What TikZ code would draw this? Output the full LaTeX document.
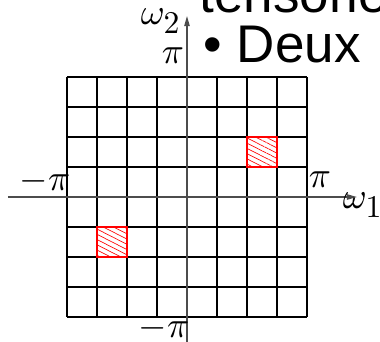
\documentclass[tikz,border=0pt]{standalone}
\usepackage{fontspec}
\newfontfamily\slidefont{Liberation Sans}
\usetikzlibrary{arrows.meta,patterns.meta}
\newcommand{\idx}[1]{\hbox{\fontsize{9.5}{11}\selectfont #1}}

\begin{document}
\begin{tikzpicture}[x=0.3pt, y=-0.3pt,
  cell/.style={draw=black, line width=0.35pt},
  axis/.style={draw=black!70, line width=0.35pt, -{Triangle[length=3pt, width=1.6pt]}},
  band/.style={draw=red, line width=0.35pt, pattern={Lines[angle=-27, distance=1.4pt, line width=0.2pt]}, pattern color=red},
  lab/.style={inner sep=0pt, font=\fontsize{11}{13}\selectfont},
  slide/.style={inner sep=0pt, anchor=base west, font=\slidefont\fontsize{15.9}{19}\selectfont}
]
\useasboundingbox (0,0) rectangle (380,342);
\clip (0,0) rectangle (380,342);

% --- Texte de la diapositive ---
\node[slide] (titre) at (199,12) {tensoriel};
\node[slide] (item) at (203,62) {• Deux};

% --- Grille 8x8 ---
\foreach \k in {0,...,8} {
  \draw[cell] (67+30*\k,77) -- (67+30*\k,317);
  \draw[cell] (67,77+30*\k) -- (307,77+30*\k);
}

% --- Zones hachurees ---
\draw[band] (247,137) rectangle (277,167);
\draw[band] (97,227) rectangle (127,257);

% --- Axes ---
\coordinate (xmin) at (8,197);
\coordinate (xmax) at (357,197);
\coordinate (ymin) at (187,342);
\coordinate (ymax) at (187,16);
\draw[axis] (xmin) -- (xmax);
\draw[axis] (ymin) -- (ymax);

% --- Etiquettes ---
\node[lab] (w2) at (161,21) {$\omega_{\idx{2}}$};
\node[lab] (pihaut) at (173,56) {$\pi$};
\node[lab] (mpigauche) at (45,181) {$-\pi$};
\node[lab] (pidroite) at (320,180) {$\pi$};
\node[lab] (w1) at (363,205) {$\omega_{\idx{1}}$};
\node[lab] (mpibas) at (164,328) {$-\pi$};

\end{tikzpicture}
\end{document}
